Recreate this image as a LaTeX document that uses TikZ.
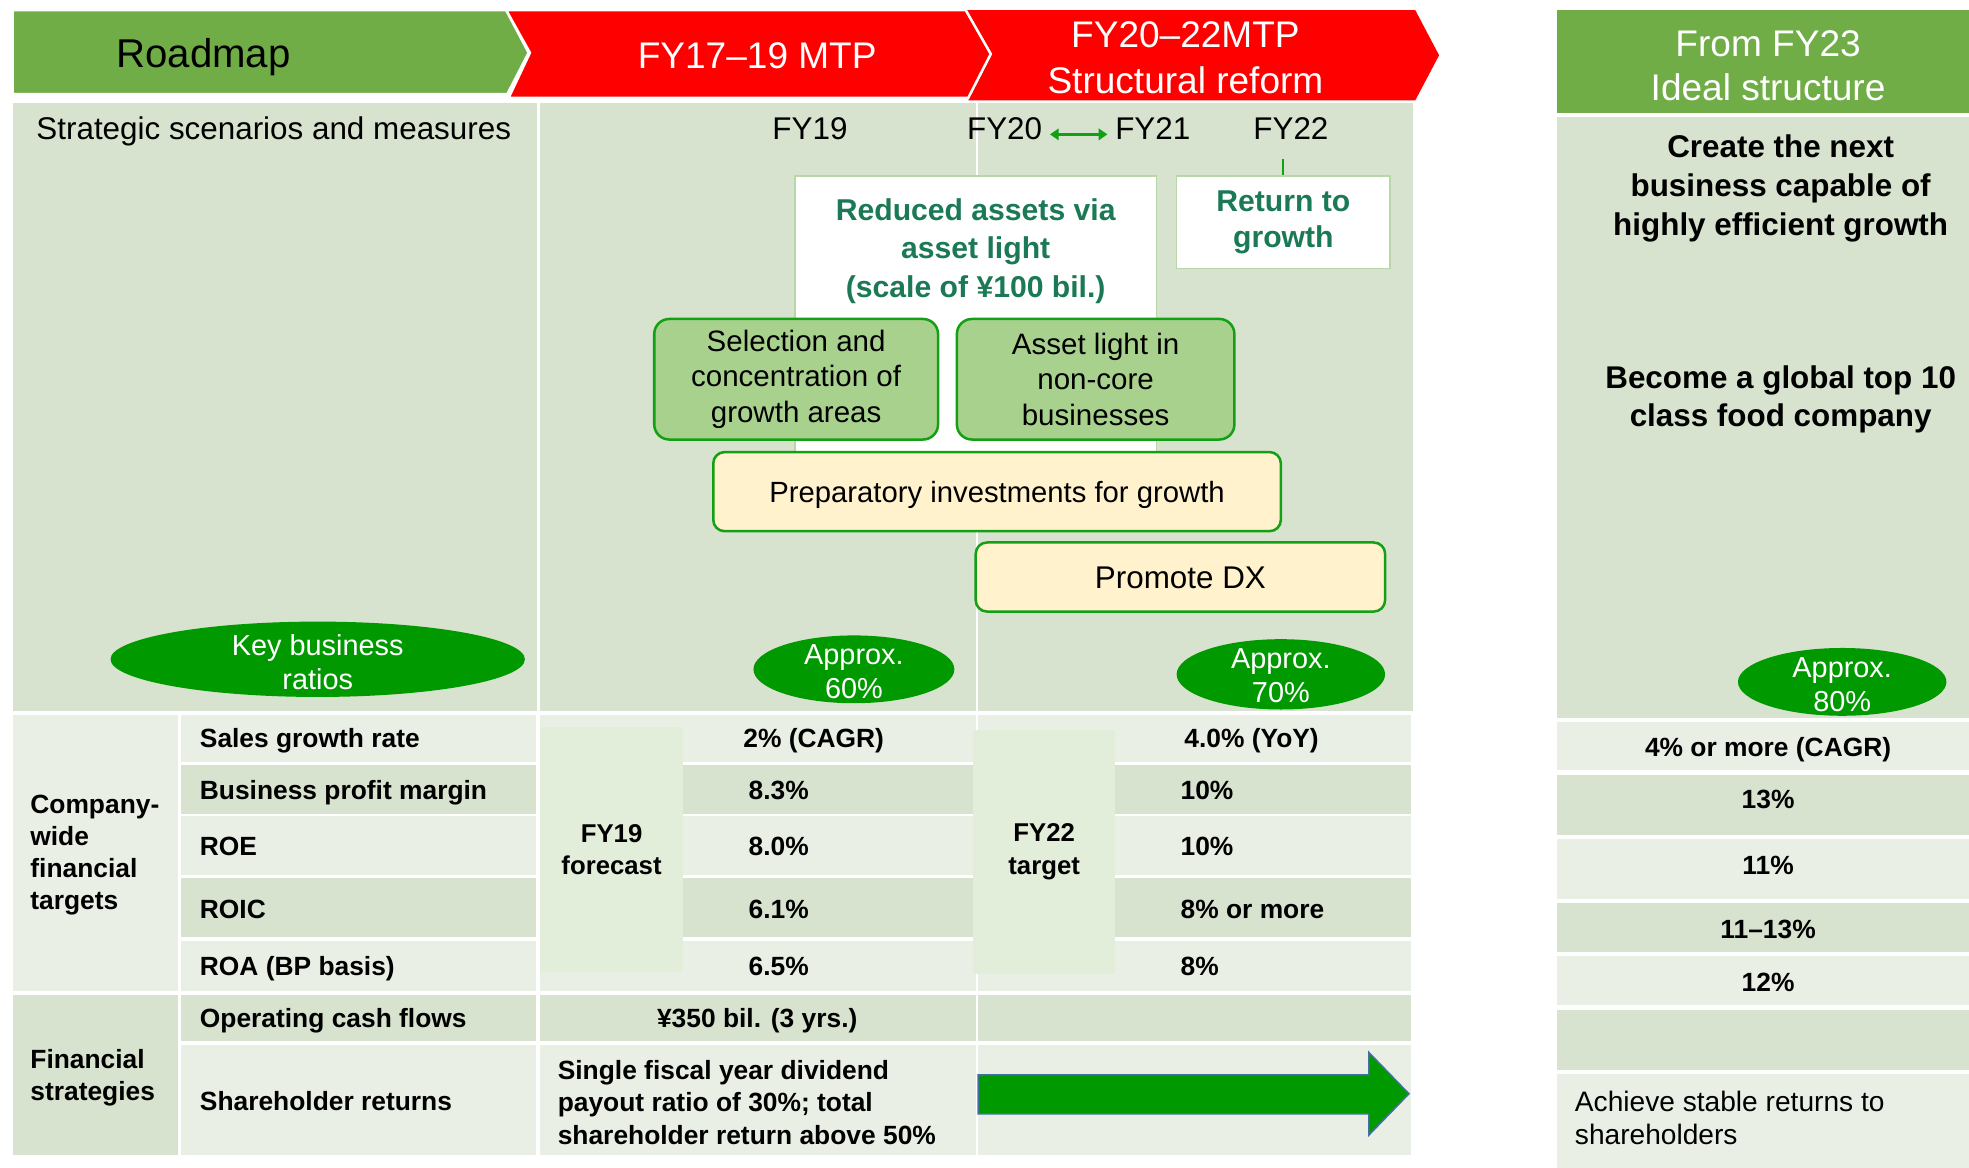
\documentclass[tikz,border=0pt]{standalone}
\usepackage{fontspec}
\setmainfont{Liberation Sans}
\usetikzlibrary{shapes.geometric,arrows.meta}

\definecolor{hdrgreen}{HTML}{70AD47}
\definecolor{hdrred}{HTML}{FF0000}
\definecolor{panel}{HTML}{D7E3CE}
\definecolor{rowlight}{HTML}{EAEFE6}
\definecolor{overlay}{HTML}{E2EEDA}
\definecolor{ellgreen}{HTML}{009900}
\definecolor{boxgreen}{HTML}{A9D18E}
\definecolor{boxline}{HTML}{14A014}
\definecolor{paleyellow}{HTML}{FFF2CC}
\definecolor{tealtext}{HTML}{1B7A55}
\definecolor{wboxline}{HTML}{B8D6A8}
\definecolor{arrowline}{HTML}{41719C}

\newcommand\fsz[2]{\fontsize{#1}{#2}\selectfont}

\begin{document}
\begin{tikzpicture}[x=1pt,y=-1pt,
  txt/.style={inner sep=0pt, align=center},
  % single-line boxes sized so that capitals sit on the node centre
  linexl/.style={text height=29.6pt, text depth=6.7pt},
  linel/.style={text height=27.3pt, text depth=6.2pt},
  linem/.style={text height=23.1pt, text depth=5.25pt},
  linems/.style={text height=21.6pt, text depth=4.9pt},
  lines/.style={text height=19.4pt, text depth=4.4pt},
  ltxt/.style={inner sep=0pt, align=left, anchor=west},
  hdr/.style={txt, text=white, font=\fsz{29.5}{36}},
  top/.style={txt, linem, font=\fsz{25}{30}},
  wbox/.style={draw=wboxline, fill=white, line width=1.2pt, inner sep=0pt},
  gbox/.style={draw=boxline, fill=boxgreen, line width=2pt, rounded corners=12pt,
    inner sep=0pt, align=center, font=\fsz{23.5}{28.5}},
  ybox/.style={draw=boxline, fill=paleyellow, line width=2pt, rounded corners=9pt,
    inner sep=0pt, align=center},
  ell/.style={ellipse, fill=ellgreen, inner sep=0pt},
  elltxt/.style={txt, text=white, font=\fsz{23}{27}},
  lbl/.style={ltxt, lines, font=\bfseries\fsz{21}{25.7}},
  grp/.style={ltxt, font=\bfseries\fsz{21}{25.7}},
  val/.style={txt, lines, font=\bfseries\fsz{21}{25.5}},
  lval/.style={ltxt, lines, font=\bfseries\fsz{21}{25.5}},
  ovl/.style={fill=overlay, inner sep=0pt, align=center, font=\bfseries\fsz{20.5}{26}},
]
\fill[white] (0,0) rectangle (1568,930);
\useasboundingbox (0,0) rectangle (1568,930);

% ---- header band ----
\fill[hdrred] (770,8) -- (1127,8) -- (1146,44) -- (1127,80) -- (771,80) -- (790,43) -- cycle;
\filldraw[fill=hdrred, draw=white, line width=2pt]
  (403,8) -- (769,8) -- (789,43) -- (771,78) -- (405,78) -- (422,42) -- cycle;
\filldraw[fill=hdrgreen, draw=white, line width=2pt]
  (10,8) -- (403,8) -- (421,42) -- (404,75) -- (10,75) -- cycle;
\fill[hdrgreen] (1240,8) rectangle (1568,90);

\node[txt, linexl, font=\fsz{32}{38}] (roadmap) at (162,42) {Roadmap};
\node[hdr, linel] (mtpa) at (603,44) {FY17–19 MTP};
\node[hdr] (mtpb) at (944,46) {FY20–22MTP\\Structural reform};
\node[hdr, font=\fsz{29.5}{35}] (ideal) at (1408,52) {From FY23\\Ideal structure};

% ---- scenario panels ----
\fill[panel] (10,82) rectangle (428,566);
\fill[panel] (430,82) rectangle (777,566);
\fill[panel] (779,82) rectangle (1125,566);
\fill[panel] (1240,93) rectangle (1568,572);

\node[top] (scen) at (218,102) {Strategic scenarios and measures};
\node[top] (fya) at (645,102) {FY19};
\node[top] (fyb) at (800,102) {FY20};
\node[top] (fyc) at (918,102) {FY21};
\node[top] (fyd) at (1028,102) {FY22};
\draw[boxline, line width=2pt, {Triangle[length=7pt,width=9pt]}-{Triangle[length=7pt,width=9pt]}]
  ([xshift=6pt,yshift=-5pt]fyb.east) -- ([xshift=-6pt,yshift=-5pt]fyc.west);

% asset-light frame and its caption
\node[wbox, minimum width=288, minimum height=262] (redbox) at (777,271) {};
\node[txt, text=tealtext, font=\bfseries\fsz{24}{31}] (redtxt) at (777,200)
  {Reduced assets via\\asset light\\(scale of ¥100 bil.)};
\node[wbox, minimum width=170, minimum height=74, text=tealtext,
  font=\bfseries\fsz{24}{28}, align=center] (ret) at (1022,177) {Return to\\growth};
\draw[boxline, line width=1.5pt] (ret.north) -- ([yshift=-10pt]fyd.south -| ret.north);

\node[gbox, minimum width=226, minimum height=96] (sel) at (634,302)
  {Selection and\\concentration of\\growth areas};
\node[gbox, minimum width=221, minimum height=96] (alight) at (872.5,302)
  {Asset light in\\non-core\\businesses};
\node[ybox, linems, minimum width=452, minimum height=63, font=\fsz{23.3}{28}] (prep) at (794,391.5)
  {Preparatory investments for growth};
\node[ybox, linem, minimum width=326, minimum height=55, font=\fsz{25}{30}] (dx) at (940,459.5)
  {Promote DX};

% key ratio ellipses
\node[ell, minimum width=330, minimum height=60] (kbr) at (253,525) {};
\node[elltxt] (kbrtxt) at (253,527) {Key business\\ratios};
\node[ell, minimum width=160, minimum height=54] (ela) at (680,533) {};
\node[elltxt] (elatxt) at (680,535) {Approx.\\60\%};
\node[ell, minimum width=166, minimum height=56] (elb) at (1020,537) {};
\node[elltxt] (elbtxt) at (1020,538) {Approx.\\70\%};
\node[ell, minimum width=166, minimum height=54] (elc) at (1467,543) {};
\node[elltxt] (elctxt) at (1467,545) {Approx.\\80\%};

% ideal structure statements
\node[txt, font=\bfseries\fsz{25}{31}] (create) at (1418,150)
  {Create the next\\business capable of\\highly efficient growth};
\node[txt, font=\bfseries\fsz{25}{30}] (global) at (1418,318)
  {Become a global top 10\\class food company};

% ---- targets table ----
\fill[rowlight] (10,569) rectangle (142,789);
\fill[panel] (10,792) rectangle (142,920);
\foreach \ya/\yb/\cl in {569/607/rowlight, 609/648/panel, 650/697/rowlight,
  699/746/panel, 749/789/rowlight, 792/829/panel, 832/920/rowlight}{
  \fill[\cl] (144,\ya) rectangle (427,\yb);
  \fill[\cl] (430,\ya) rectangle (777,\yb);
  \fill[\cl] (779,\ya) rectangle (1124,\yb);
}
\foreach \ya/\yb/\cl in {575/613/rowlight, 617/665/panel, 668/716/rowlight,
  719/758/panel, 761/800/rowlight, 804/852/panel, 855/930/rowlight}{
  \fill[\cl] (1240,\ya) rectangle (1568,\yb);
}

\node[grp] (grpa) at (24,681) {Company-\\wide\\financial\\targets};
\node[grp] (grpb) at (24,858) {Financial\\strategies};

\node[lbl] (ra) at (159,588) {Sales growth rate};
\node[lbl] (rb) at (159,629) {Business profit margin};
\node[lbl] (rc) at (159,674) {ROE};
\node[lbl] (rd) at (159,724) {ROIC};
\node[lbl] (re) at (159,769) {ROA (BP basis)};
\node[lbl] (rf) at (159,811) {Operating cash flows};
\node[lbl] (rg) at (159,877) {Shareholder returns};

\node[ovl, minimum width=114, minimum height=195] (fcst) at (487,676.5) {FY19\\forecast};
\node[ovl, minimum width=113, minimum height=195] (tgt) at (831.5,678.5) {FY22\\target};

\node[val] (va) at (648,588) {2\% (CAGR)};
\node[lval] (vb) at (596,629) {8.3\%};
\node[lval] (vc) at (596,674) {8.0\%};
\node[lval] (vd) at (596,724) {6.1\%};
\node[lval] (ve) at (596,769) {6.5\%};
\node[val] (vf) at (603,811) {¥350 bil. (3 yrs.)};
\node[grp, font=\bfseries\fsz{21}{25.5}] (vg) at (444,878)
  {Single fiscal year dividend\\payout ratio of 30\%; total\\shareholder return above 50\%};

\node[lval] (wa) at (943,588) {4.0\% (YoY)};
\node[lval] (wb) at (940,629) {10\%};
\node[lval] (wc) at (940,674) {10\%};
\node[lval] (wd) at (940,724) {8\% or more};
\node[lval] (we) at (940,769) {8\%};

\node[val] (xa) at (1408,595) {4\% or more (CAGR)};
\node[val] (xb) at (1408,636) {13\%};
\node[val] (xc) at (1408,689) {11\%};
\node[val] (xd) at (1408,740) {11–13\%};
\node[val] (xe) at (1408,782) {12\%};
\node[ltxt, font=\fsz{22.4}{26}] (xg) at (1254,890)
  {Achieve stable returns to\\shareholders};

% block arrow carrying the return policy forward
\filldraw[fill=ellgreen, draw=arrowline, line width=1.2pt]
  (779,856) -- (1090,856) -- (1090,838) -- (1122,871) -- (1090,904) -- (1090,887) -- (779,887) -- cycle;

\end{tikzpicture}
\end{document}
